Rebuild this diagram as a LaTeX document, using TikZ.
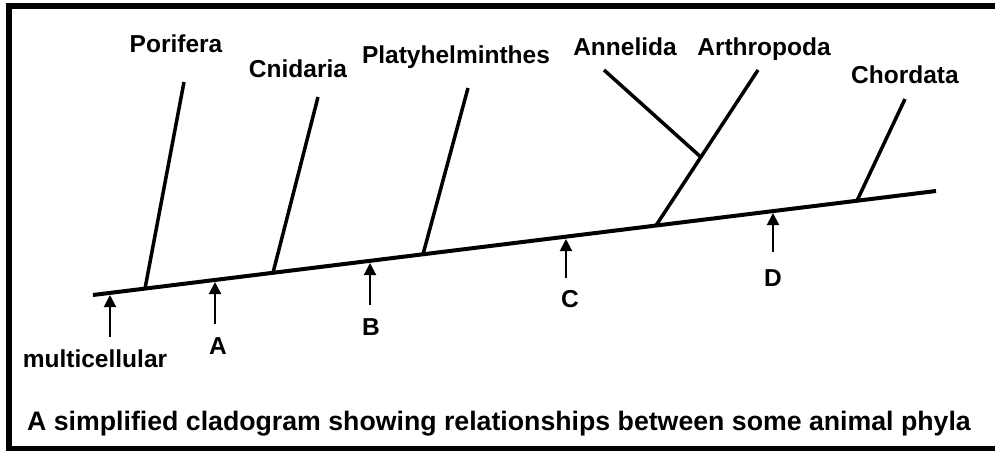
\documentclass[tikz,border=0pt]{standalone}
\usepackage{fontspec}
\setmainfont{Liberation Sans}
\usetikzlibrary{arrows.meta}

\tikzset{
  stem/.style={line width=4pt},
  branch/.style={line width=3.5pt},
  marker/.style={line width=2pt, -{Triangle[width=12pt,length=12pt]}},
  taxon/.style={font=\bfseries\fontsize{24.5}{28}\selectfont, inner sep=0pt, anchor=base}
}

\begin{document}
\begin{tikzpicture}[x=1pt, y=-1pt]
    \useasboundingbox (0,0) rectangle (995,450);
    \draw[line width=6pt] (9,6) rectangle (1010,449);

    % main line
    \coordinate (root) at (93,295);
    \coordinate (end) at (936,191);
    \draw[stem] (root) -- (end);

    % branches with their taxa
    \foreach \n/\bx/\by/\tx/\ty/\lx/\ly/\t in {por/145/288.6/184/82/176/52/Porifera,
        cni/273/272.8/318/97/298/77/Cnidaria,
        pla/423/254.3/468/88/456/63/Platyhelminthes,
        art/656/225.5/758/70/764/55/Arthropoda,
        cho/857/200.7/905/99/905/83/Chordata} {
      \coordinate (\n-b) at (\bx,\by);
      \coordinate (\n-t) at (\tx,\ty);
      \node[taxon] (\n) at (\lx,\ly) {\t};
      \draw[branch] (\n-b) -- (\n-t);
    }
    \path (art-b) -- (art-t) coordinate[pos=0.44] (ann-b);
    \coordinate (ann-t) at (604,70);
    \node[taxon] (ann) at (625,55) {Annelida};
    \draw[branch] (ann-b) -- (ann-t);

    % characters along the main line
    \foreach \n/\x/\tip/\tail/\lx/\ly/\t in {mul/110/295/337/95/367/multicellular,
        a/215/282/324/218/354/A,
        b/370/263/305/371/335/B,
        c/566/239/278/570/307/C,
        d/773/213/252/773/286/D} {
      \coordinate (\n-tip) at (\x,\tip);
      \coordinate (\n-tail) at (\x,\tail);
      \node[taxon] (\n) at (\lx,\ly) {\t};
      \draw[marker] (\n-tail) -- (\n-tip);
    }

    \node[taxon, font=\bfseries\fontsize{26.7}{30}\selectfont] (caption) at (499,430) {A simplified cladogram showing relationships between some animal phyla};
\end{tikzpicture}
\end{document}
